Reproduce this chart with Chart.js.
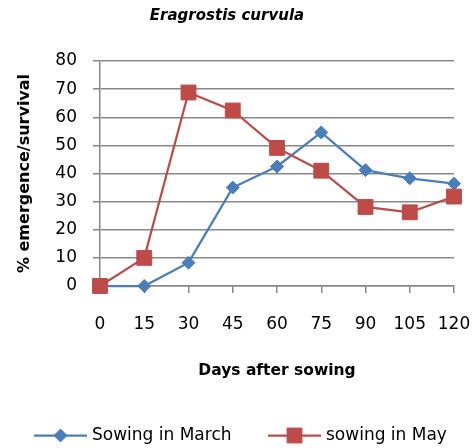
<!DOCTYPE html>
<html>
<head>
<meta charset="utf-8">
<script src="https://cdn.jsdelivr.net/npm/chart.js@4"></script>
<style>
  html, body { margin: 0; padding: 0; background: #fff; }
  #wrap { width: 475px; height: 448px; }
</style>
</head>
<body>
<div id="wrap"><canvas id="chart" width="475" height="448"></canvas></div>
<script>
const days = [0, 15, 30, 45, 60, 75, 90, 105, 120];
const sowingMarch = [0, 0, 8.3, 35, 42.5, 54.6, 41.2, 38.3, 36.4];
const sowingMay = [0, 10, 68.8, 62.4, 49.1, 41, 28.1, 26.2, 31.8];
const yTicks = [0, 10, 20, 30, 40, 50, 60, 70, 80];

const BLUE = '#4a7ebb';
const RED = '#be4b48';
const GRID = '#878787';
const FONT = "'DejaVu Sans', sans-serif";

// Excel style legend: line with the marker on it
const legendPlugin = {
    id: 'lineLegend',
    afterDraw(chart) {
        const ctx = chart.ctx;
        const items = [
            { ds: chart.data.datasets[0], x: 34 },
            { ds: chart.data.datasets[1], x: 268 }
        ];
        const y = 435.5;
        ctx.save();
        items.forEach(item => {
            const ds = item.ds;
            ctx.strokeStyle = ds.borderColor;
            ctx.lineWidth = ds.borderWidth;
            ctx.beginPath();
            ctx.moveTo(item.x, y);
            ctx.lineTo(item.x + 53, y);
            ctx.stroke();
            ctx.fillStyle = ds.pointBackgroundColor;
            ctx.lineWidth = 1;
            Chart.helpers.drawPoint(ctx, {
                pointStyle: ds.pointStyle,
                radius: ds.pointRadius,
                borderWidth: 1
            }, item.x + 26.5, y);
            ctx.fillStyle = '#000';
            ctx.font = '17px ' + FONT;
            ctx.textBaseline = 'middle';
            ctx.textAlign = 'left';
            ctx.fillText(ds.label, item.x + 58, y);
        });
        ctx.restore();
    }
};

const ctx = document.getElementById('chart').getContext('2d');
new Chart(ctx, {
    type: 'line',
    data: {
        datasets: [
            {
                label: 'Sowing in March',
                data: days.map((d, i) => ({ x: d, y: sowingMarch[i] })),
                borderColor: BLUE,
                backgroundColor: BLUE,
                pointBackgroundColor: BLUE,
                pointBorderColor: BLUE,
                pointBorderWidth: 1,
                pointStyle: 'rectRot',
                pointRadius: 6.5,
                borderWidth: 2.25,
                tension: 0,
                clip: false,
                order: 1
            },
            {
                label: 'sowing in May',
                data: days.map((d, i) => ({ x: d, y: sowingMay[i] })),
                borderColor: RED,
                backgroundColor: RED,
                pointBackgroundColor: RED,
                pointBorderColor: RED,
                pointBorderWidth: 1,
                pointStyle: 'rect',
                pointRadius: 10.5,
                borderWidth: 2.25,
                tension: 0,
                clip: false,
                order: 0
            }
        ]
    },
    options: {
        responsive: false,
        animation: false,
        devicePixelRatio: 1,
        layout: { padding: { left: 0, right: 21, top: 0, bottom: 0 } },
        plugins: {
            legend: { display: false },
            tooltip: { enabled: false },
            title: {
                display: true,
                text: 'Eragrostis curvula',
                color: '#000',
                font: { family: FONT, size: 15, weight: 'bold', style: 'italic', lineHeight: 1.2 },
                padding: { top: 7, bottom: 36 }
            }
        },
        scales: {
            x: {
                type: 'linear',
                min: 0,
                max: 120,
                afterFit(scale) {
                    scale.height = 162;
                    scale.paddingLeft = 0;
                    scale.paddingRight = 0;
                },
                afterBuildTicks(scale) { scale.ticks = days.map(v => ({ value: v })); },
                ticks: {
                    color: '#000',
                    font: { family: FONT, size: 17 },
                    padding: 21,
                    maxRotation: 0,
                    autoSkip: false
                },
                grid: {
                    drawOnChartArea: false,
                    drawTicks: true,
                    tickLength: 7,
                    color: GRID,
                    lineWidth: 1.5
                },
                border: { display: true, color: GRID, width: 1.5 },
                title: {
                    display: true,
                    text: 'Days after sowing',
                    color: '#000',
                    font: { family: FONT, size: 15.5, weight: 'bold', lineHeight: 1.2 },
                    padding: { top: 0, bottom: 68 }
                }
            },
            y: {
                min: 0,
                max: 80,
                afterFit(scale) { scale.width = 100; },
                afterBuildTicks(scale) { scale.ticks = yTicks.map(v => ({ value: v })); },
                ticks: {
                    color: '#000',
                    font: { family: FONT, size: 17 },
                    padding: 16
                },
                grid: {
                    drawTicks: true,
                    tickLength: 7,
                    color: GRID,
                    lineWidth: 1.5
                },
                border: { display: true, color: GRID, width: 1.5 },
                title: {
                    display: true,
                    text: '% emergence/survival',
                    color: '#000',
                    font: { family: FONT, size: 16, weight: 'bold', lineHeight: 1.2 },
                    padding: { top: 15, bottom: 0 }
                }
            }
        }
    },
    plugins: [legendPlugin]
});
</script>
</body>
</html>
